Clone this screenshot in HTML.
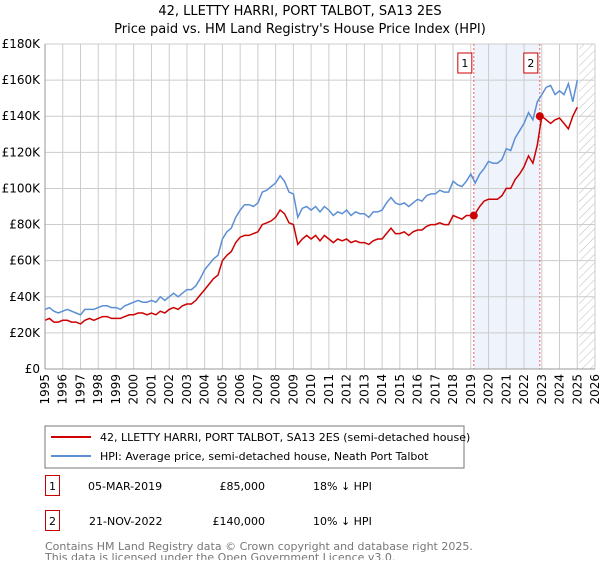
<!DOCTYPE html>
<html><head><meta charset="utf-8"><style>
body{margin:0;background:#fff;font-family:"Liberation Sans","DejaVu Sans",sans-serif;}
svg text{font-family:"DejaVu Sans","Liberation Sans",sans-serif;}
</style></head><body>
<svg id="c" width="600" height="560" xmlns="http://www.w3.org/2000/svg">
<defs><pattern id="hatch" width="6" height="6" patternUnits="userSpaceOnUse" patternTransform="rotate(45)"><line x1="0" y1="0" x2="0" y2="6" stroke="#bbb" stroke-width="1"/></pattern></defs>
<text x="300" y="15" text-anchor="middle" font-size="13">42, LLETTY HARRI, PORT TALBOT, SA13 2ES</text>
<text x="300" y="33" text-anchor="middle" font-size="13">Price paid vs. HM Land Registry's House Price Index (HPI)</text>
<g id="plot"></g>
<rect x="45" y="426" width="419" height="42" fill="#fff" stroke="#777"/>
<line x1="51" y1="437" x2="91" y2="437" stroke="#cc0000" stroke-width="2"/>
<text x="100" y="441" font-size="11">42, LLETTY HARRI, PORT TALBOT, SA13 2ES (semi-detached house)</text>
<line x1="51" y1="456" x2="91" y2="456" stroke="#5b8fd4" stroke-width="2"/>
<text x="100" y="460" font-size="11">HPI: Average price, semi-detached house, Neath Port Talbot</text>
<g>
<rect x="45.5" y="475.5" width="14" height="20" fill="#fff" stroke="#cc0000"/>
<text x="52.5" y="490" text-anchor="middle" font-size="11">1</text>
<text x="88" y="490" font-size="11">05-MAR-2019</text>
<text x="265" y="490" text-anchor="end" font-size="11">£85,000</text>
<text x="313" y="490" font-size="11">18% ↓ HPI</text></g>
<g>
<rect x="45.5" y="510.5" width="14" height="20" fill="#fff" stroke="#cc0000"/>
<text x="52.5" y="525" text-anchor="middle" font-size="11">2</text>
<text x="89" y="525" font-size="11">21-NOV-2022</text>
<text x="265" y="525" text-anchor="end" font-size="11">£140,000</text>
<text x="313" y="525" font-size="11">10% ↓ HPI</text></g>
<text x="45" y="550" font-size="11" fill="#777">Contains HM Land Registry data © Crown copyright and database right 2025.</text>
<text x="45" y="561" font-size="11" fill="#777">This data is licensed under the Open Government Licence v3.0.</text>
</svg>
<script>
const yTicks=[0,20000,40000,60000,80000,100000,120000,140000,160000,180000];
const yTickLabels=["£0","£20K","£40K","£60K","£80K","£100K","£120K","£140K","£160K","£180K"];
const xYears=[1995,1996,1997,1998,1999,2000,2001,2002,2003,2004,2005,2006,2007,2008,2009,2010,2011,2012,2013,2014,2015,2016,2017,2018,2019,2020,2021,2022,2023,2024,2025,2026];
const hpiK=[33,34,32,31,32,33,32,31,30,33,33,33,34,35,35,34,34,33,35,36,37,38,37,37,38,37,40,38,40,42,40,42,44,44,46,50,55,58,61,63,72,76,78,84,88,91,91,90,92,98,99,101,103,107,104,98,97,84,89,90,88,90,87,90,88,85,87,86,88,85,87,86,86,84,87,87,88,92,95,92,91,92,90,92,94,93,96,97,97,99,98,98,104,102,101,104,108,103,108,111,115,114,114,116,122,121,128,132,136,142,138,148,152,156,157,152,154,152,158,148,160];
const priceK=[27,28,26,26,27,27,26,26,25,27,28,27,28,29,29,28,28,28,29,30,30,31,31,30,31,30,32,31,33,34,33,35,36,36,38,41,44,47,50,52,60,63,65,70,73,74,74,75,76,80,81,82,84,88,86,81,80,69,72,74,72,74,71,74,72,70,72,71,72,70,71,70,70,69,71,72,72,75,78,75,75,76,74,76,77,77,79,80,80,81,80,80,85,84,83,85,85,86,90,93,94,94,94,96,100,100,105,108,112,118,114,124,140,138,136,138,139,136,133,140,145];
const saleDates=[2019.17,2022.89];
const salePrices=[85000,140000];
const saleLabels=["1","2"];
const dataEnd=2025.1;
const L=45,R=595,T=44,B=369;
const x=t=>L+(t-1995)/(2026-1995)*(R-L);
const y=v=>B-v/180000*(B-T);
const g=document.getElementById('plot');const NS="http://www.w3.org/2000/svg";
function mk(tag,a,p){const e=document.createElementNS(NS,tag);for(const k in a)e.setAttribute(k,a[k]);(p||g).appendChild(e);return e;}
let e=mk('rect',{x:x(saleDates[0]),y:T,width:x(saleDates[1])-x(saleDates[0]),height:B-T,fill:'#eef3fc'});


e=mk('rect',{x:x(dataEnd),y:T,width:R-x(dataEnd),height:B-T,fill:'url(#hatch)'});


xYears.forEach(yr=>{
 e=mk('line',{x1:x(yr),x2:x(yr),y1:T,y2:B,stroke:'#ccc'});
 
 
 const tx=x(yr)+4,ty=374;
 e=mk('text',{x:tx,y:ty,'text-anchor':'end','font-size':'12',transform:'rotate(-90 '+tx+' '+ty+')'});e.textContent=yr;
 
 
});
yTicks.forEach((v,i)=>{
 e=mk('line',{x1:L,x2:R,y1:y(v),y2:y(v),stroke:'#ccc'});
 
 
 e=mk('text',{x:40,y:y(v)+4,'text-anchor':'end','font-size':'12'});e.textContent=yTickLabels[i];
 
 
});
const ptT=i=>i<120?1995+i*0.25:2025.0;
function path(arr){return arr.map((v,i)=>(i?'L':'M')+x(ptT(i)).toFixed(1)+' '+y(v*1000).toFixed(1)).join(' ');}
saleDates.forEach((d,i)=>{
 e=mk('line',{x1:x(d),x2:x(d),y1:T,y2:B,stroke:'#f06060','stroke-dasharray':'2,2'});
 
 
});
e=mk('path',{d:path(hpiK),fill:'none',stroke:'#5b8fd4','stroke-width':1.5});


e=mk('path',{d:path(priceK),fill:'none',stroke:'#cc0000','stroke-width':1.5});


saleDates.forEach((d,i)=>{
 e=mk('circle',{cx:x(d),cy:y(salePrices[i]),r:4,fill:'#cc0000'});
 
 
 const bx=x(d)-9;
 e=mk('rect',{x:bx-7,y:53,width:14,height:20,fill:'#fff',stroke:'#cc0000'});
 
 
 e=mk('text',{x:bx,y:67,'text-anchor':'middle','font-size':'11'});e.textContent=saleLabels[i];
 
 
});
e=mk('line',{x1:L,x2:L,y1:T,y2:B,stroke:'#999'});


e=mk('line',{x1:L,x2:R,y1:B,y2:B,stroke:'#999'});


</script>
</body></html>
